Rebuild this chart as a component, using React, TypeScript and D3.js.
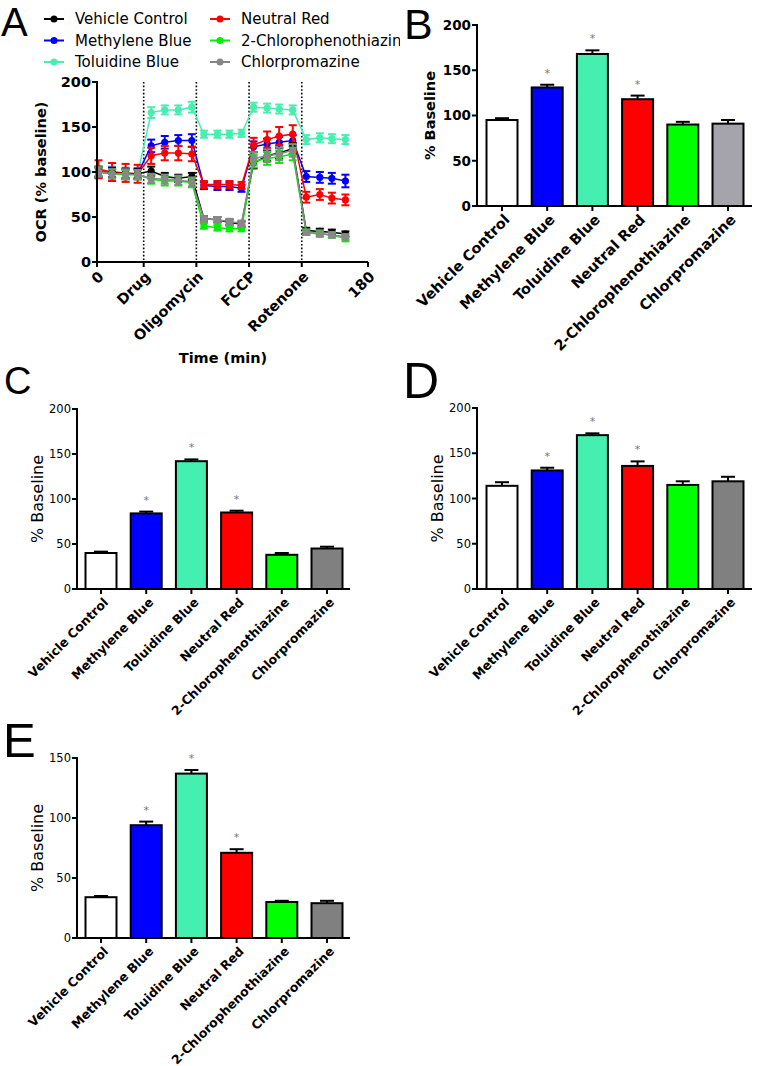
import React from "react";
import * as d3 from "d3";

// ---------- DATA ----------
const categories = [
  "Vehicle Control",
  "Methylene Blue",
  "Toluidine Blue",
  "Neutral Red",
  "2-Chlorophenothiazine",
  "Chlorpromazine",
];

const timePoints = [1, 10, 19, 27, 36, 45, 54, 63, 71, 80, 88, 96, 104, 113, 121, 130, 139, 148, 156, 165];
const injectionTimes = [31, 66, 101, 136];
const injectionLabels = ["Drug", "Oligomycin", "FCCP", "Rotenone"];

const ocrVehicle = [100, 99, 98, 98, 101, 95, 93, 95, 48, 47, 44, 42, 110, 118, 121, 126, 35, 34, 33, 31];
const ocrMethylene = [100, 99, 98, 98, 129, 133, 135, 135, 85, 84, 84, 82, 128, 131, 133, 135, 95, 94, 93, 90];
const ocrToluidine = [100, 100, 99, 98, 166, 169, 169, 172, 142, 142, 142, 143, 172, 171, 170, 169, 136, 138, 137, 136];
const ocrNeutral = [103, 100, 99, 98, 118, 121, 121, 120, 86, 86, 86, 85, 130, 136, 140, 142, 72, 75, 71, 69];
const ocrChloroPheno = [100, 98, 97, 97, 92, 90, 90, 88, 40, 38, 37, 37, 112, 115, 117, 120, 33, 32, 30, 26];
const ocrChlorpro = [100, 98, 98, 97, 93, 92, 91, 89, 48, 47, 45, 43, 115, 118, 120, 124, 33, 31, 30, 28];

const errVehicle = [5, 5, 5, 5, 5, 4, 4, 4, 3, 3, 3, 3, 6, 6, 6, 6, 3, 3, 3, 3];
const errMethylene = [6, 6, 6, 6, 7, 7, 6, 7, 4, 4, 4, 4, 6, 6, 6, 6, 6, 6, 6, 7];
const errToluidine = [6, 6, 6, 6, 6, 5, 5, 6, 4, 4, 4, 4, 5, 5, 5, 5, 5, 5, 5, 5];
const errNeutral = [10, 10, 10, 10, 9, 8, 8, 8, 4, 4, 4, 4, 8, 9, 10, 10, 6, 6, 6, 6];
const errChloroPheno = [5, 5, 5, 5, 5, 5, 5, 5, 3, 3, 3, 3, 7, 7, 7, 7, 3, 3, 3, 3];
const errChlorpro = [5, 5, 5, 5, 5, 5, 5, 5, 3, 3, 3, 3, 7, 7, 7, 7, 3, 3, 3, 3];

const legendLabels = [
  "Vehicle Control",
  "Methylene Blue",
  "Toluidine Blue",
  "Neutral Red",
  "2-Chlorophenothiazin",
  "Chlorpromazine",
];

const valuesB = [95, 131, 168, 118, 90, 91];
const errorsB = [2, 3, 4, 4, 3, 4];
const valuesC = [40, 84, 142, 85, 38, 45];
const errorsC = [1.5, 2, 2, 2, 2, 2];
const valuesD = [114, 131, 170, 136, 115, 119];
const errorsD = [4, 3, 2, 5, 4, 5];
const valuesE = [34, 94, 137, 71, 30, 29];
const errorsE = [1, 3, 3, 3, 1, 2];
const starred = [false, true, true, true, false, false];

const ticks200 = [0, 50, 100, 150, 200];
const ticks150 = [0, 50, 100, 150];

// ---------- STYLE ----------
const FONT = "'DejaVu Sans', Verdana, sans-serif";
const LETTER_FONT = "'Liberation Sans', Arial, Helvetica, sans-serif";
const TEAL = "#45efb0";
const lineColors = ["#000000", "#0000ff", TEAL, "#ff0000", "#00ee00", "#888888"];
const barFillsB = ["#ffffff", "#0000ff", TEAL, "#ff0000", "#00ff00", "#a4a4aa"];
const barFillsCDE = ["#ffffff", "#0000ff", TEAL, "#ff0000", "#00ff00", "#808080"];

type BarProps = {
  letter: string;
  letterX: number;
  letterY: number;
  letterSize: number;
  axisX: number;
  axisEnd: number;
  yTop: number;
  yBottom: number;
  maxY: number;
  ticks: number[];
  firstCenter: number;
  lastCenter: number;
  values: number[];
  errors: number[];
  fills: string[];
  bold: boolean;
  tickFont: number;
  catFont: number;
  ylabelX: number;
  ylabelFont: number;
};

function BarPanel(p: BarProps) {
  const y = d3.scaleLinear().domain([0, p.maxY]).range([p.yBottom, p.yTop]);
  const x = d3.scalePoint<string>().domain(categories).range([p.firstCenter, p.lastCenter]);
  const bw = 31;
  const cap = 7;
  const weight = p.bold ? "bold" : "normal";
  return (
    <g fontFamily={FONT}>
      <text x={p.letterX} y={p.letterY} fontSize={p.letterSize} fontFamily={LETTER_FONT}>
        {p.letter}
      </text>
      {categories.map((c, i) => {
        const cx = x(c)!;
        const top = y(p.values[i]);
        const et = y(p.values[i] + p.errors[i]);
        return (
          <g key={c}>
            <line x1={cx} x2={cx} y1={top} y2={et} stroke="#000" strokeWidth={2} />
            <line x1={cx - cap} x2={cx + cap} y1={et} y2={et} stroke="#000" strokeWidth={2} />
            <rect
              x={cx - bw / 2}
              y={top}
              width={bw}
              height={p.yBottom - top}
              fill={p.fills[i]}
              stroke="#000"
              strokeWidth={2}
            />
            {starred[i] && (
              <text x={cx} y={et - 8} fontSize={11} fill="#777" textAnchor="middle">
                *
              </text>
            )}
            <line x1={cx} x2={cx} y1={p.yBottom} y2={p.yBottom + 5} stroke="#000" strokeWidth={2} />
            <text
              transform={`translate(${cx + 5},${p.yBottom + 11}) rotate(-45)`}
              textAnchor="end"
              dy="0.35em"
              fontSize={p.catFont}
              fontWeight="bold"
            >
              {c}
            </text>
          </g>
        );
      })}
      {/* axes */}
      <line x1={p.axisX} x2={p.axisX} y1={p.yTop - 1} y2={p.yBottom + 1} stroke="#000" strokeWidth={2} />
      <line x1={p.axisX} x2={p.axisEnd} y1={p.yBottom} y2={p.yBottom} stroke="#000" strokeWidth={2} />
      {p.ticks.map((t) => (
        <g key={t}>
          <line x1={p.axisX - 5} x2={p.axisX} y1={y(t)} y2={y(t)} stroke="#000" strokeWidth={2} />
          <text
            x={p.axisX - 6}
            y={y(t)}
            dy="0.36em"
            textAnchor="end"
            fontSize={p.tickFont}
            fontWeight={weight}
          >
            {t}
          </text>
        </g>
      ))}
      <text
        transform={`translate(${p.ylabelX},${(p.yTop + p.yBottom) / 2}) rotate(-90)`}
        textAnchor="middle"
        fontSize={p.ylabelFont}
        fontWeight={weight}
      >
        % Baseline
      </text>
    </g>
  );
}

function PanelA() {
  const x = d3.scaleLinear().domain([0, 180]).range([97, 368]);
  const y = d3.scaleLinear().domain([0, 200]).range([262, 82]);
  const series = [ocrToluidine, ocrMethylene, ocrNeutral, ocrVehicle, ocrChloroPheno, ocrChlorpro];
  const errs = [errToluidine, errMethylene, errNeutral, errVehicle, errChloroPheno, errChlorpro];
  const colors = [lineColors[2], lineColors[1], lineColors[3], lineColors[0], lineColors[4], lineColors[5]];
  const line = d3
    .line<number>()
    .x((_, i) => x(timePoints[i]))
    .y((d) => y(d));
  const xTicks = [
    { v: 0, l: "0" },
    ...injectionTimes.map((v, i) => ({ v, l: injectionLabels[i] })),
    { v: 180, l: "180" },
  ];
  return (
    <g fontFamily={FONT}>
      <defs>
        <clipPath id="legendClip">
          <rect x={0} y={0} width={400} height={80} />
        </clipPath>
      </defs>
      <text x={1} y={36} fontSize={40} fontFamily={LETTER_FONT}>
        A
      </text>
      {/* legend */}
      <g clipPath="url(#legendClip)">
        {legendLabels.map((l, i) => {
          const col = Math.floor(i / 3);
          const row = i % 3;
          const lx = col === 0 ? 44 : 210;
          const ly = 19 + row * 21.5;
          return (
            <g key={l}>
              <line x1={lx} x2={lx + 20} y1={ly} y2={ly} stroke={lineColors[i]} strokeWidth={2} />
              <circle cx={lx + 10} cy={ly} r={3.5} fill={lineColors[i]} />
              <text x={lx + 31} y={ly} dy="0.36em" fontSize={15}>
                {l}
              </text>
            </g>
          );
        })}
      </g>
      {/* injection lines */}
      {injectionTimes.map((t) => (
        <line
          key={t}
          x1={x(t)}
          x2={x(t)}
          y1={y(200)}
          y2={y(0)}
          stroke="#000"
          strokeWidth={1.6}
          strokeDasharray="1.6,2"
        />
      ))}
      {series.map((s, k) => (
        <g key={k}>
          <path d={line(s) || ""} fill="none" stroke={colors[k]} strokeWidth={1.5} />
          {s.map((v, i) => {
            const cx = x(timePoints[i]);
            const hi = y(v + errs[k][i]);
            const lo = y(v - errs[k][i]);
            return (
              <g key={i}>
                <line x1={cx} x2={cx} y1={hi} y2={lo} stroke={colors[k]} strokeWidth={2} />
                <line x1={cx - 4} x2={cx + 4} y1={hi} y2={hi} stroke={colors[k]} strokeWidth={2} />
                <line x1={cx - 4} x2={cx + 4} y1={lo} y2={lo} stroke={colors[k]} strokeWidth={2} />
                <circle cx={cx} cy={y(v)} r={3.6} fill={colors[k]} />
              </g>
            );
          })}
        </g>
      ))}
      {/* axes */}
      <line x1={97} x2={97} y1={y(200) - 1} y2={y(0) + 1} stroke="#000" strokeWidth={2} />
      <line x1={97} x2={x(180)} y1={y(0)} y2={y(0)} stroke="#000" strokeWidth={2} />
      {ticks200.map((t) => (
        <g key={t}>
          <line x1={92} x2={97} y1={y(t)} y2={y(t)} stroke="#000" strokeWidth={2} />
          <text x={91} y={y(t)} dy="0.36em" textAnchor="end" fontSize={14.5} fontWeight="bold">
            {t}
          </text>
        </g>
      ))}
      {xTicks.map((t) => (
        <g key={t.l}>
          <line x1={x(t.v)} x2={x(t.v)} y1={y(0)} y2={y(0) + 5} stroke="#000" strokeWidth={2} />
          <text
            transform={`translate(${x(t.v) + 4},${y(0) + 12}) rotate(-45)`}
            textAnchor="end"
            dy="0.35em"
            fontSize={14.5}
            fontWeight="bold"
          >
            {t.l}
          </text>
        </g>
      ))}
      <text
        transform={`translate(46,${y(100)}) rotate(-90)`}
        textAnchor="middle"
        fontSize={14.5}
        fontWeight="bold"
      >
        OCR (% baseline)
      </text>
      <text x={223} y={363} textAnchor="middle" fontSize={14.5} fontWeight="bold">
        Time (min)
      </text>
    </g>
  );
}

export default function App() {
  return (
    <svg
      width={757}
      height={1066}
      viewBox="0 0 757 1066"
      style={{ position: "absolute", left: 0, top: 0, background: "#fff" }}
    >
      <rect width={757} height={1066} fill="#fff" />
      <PanelA />
      <BarPanel
        letter="B"
        letterX={404}
        letterY={39}
        letterSize={43}
        axisX={477}
        axisEnd={752}
        yTop={25}
        yBottom={206}
        maxY={200}
        ticks={ticks200}
        firstCenter={502}
        lastCenter={728}
        values={valuesB}
        errors={errorsB}
        fills={barFillsB}
        bold={true}
        tickFont={13.5}
        catFont={14.5}
        ylabelX={435}
        ylabelFont={14.5}
      />
      <BarPanel
        letter="C"
        letterX={4}
        letterY={394}
        letterSize={38}
        axisX={77}
        axisEnd={350}
        yTop={409}
        yBottom={589}
        maxY={200}
        ticks={ticks200}
        firstCenter={101}
        lastCenter={327}
        values={valuesC}
        errors={errorsC}
        fills={barFillsCDE}
        bold={false}
        tickFont={11.5}
        catFont={12.5}
        ylabelX={43}
        ylabelFont={16}
      />
      <BarPanel
        letter="D"
        letterX={403}
        letterY={398}
        letterSize={50}
        axisX={477}
        axisEnd={752}
        yTop={408}
        yBottom={589}
        maxY={200}
        ticks={ticks200}
        firstCenter={502}
        lastCenter={728}
        values={valuesD}
        errors={errorsD}
        fills={barFillsCDE}
        bold={false}
        tickFont={11.5}
        catFont={12.5}
        ylabelX={443}
        ylabelFont={16}
      />
      <BarPanel
        letter="E"
        letterX={3}
        letterY={757}
        letterSize={49}
        axisX={77}
        axisEnd={350}
        yTop={758}
        yBottom={938}
        maxY={150}
        ticks={ticks150}
        firstCenter={101}
        lastCenter={327}
        values={valuesE}
        errors={errorsE}
        fills={barFillsCDE}
        bold={false}
        tickFont={11.5}
        catFont={12.5}
        ylabelX={43}
        ylabelFont={16}
      />
    </svg>
  );
}
